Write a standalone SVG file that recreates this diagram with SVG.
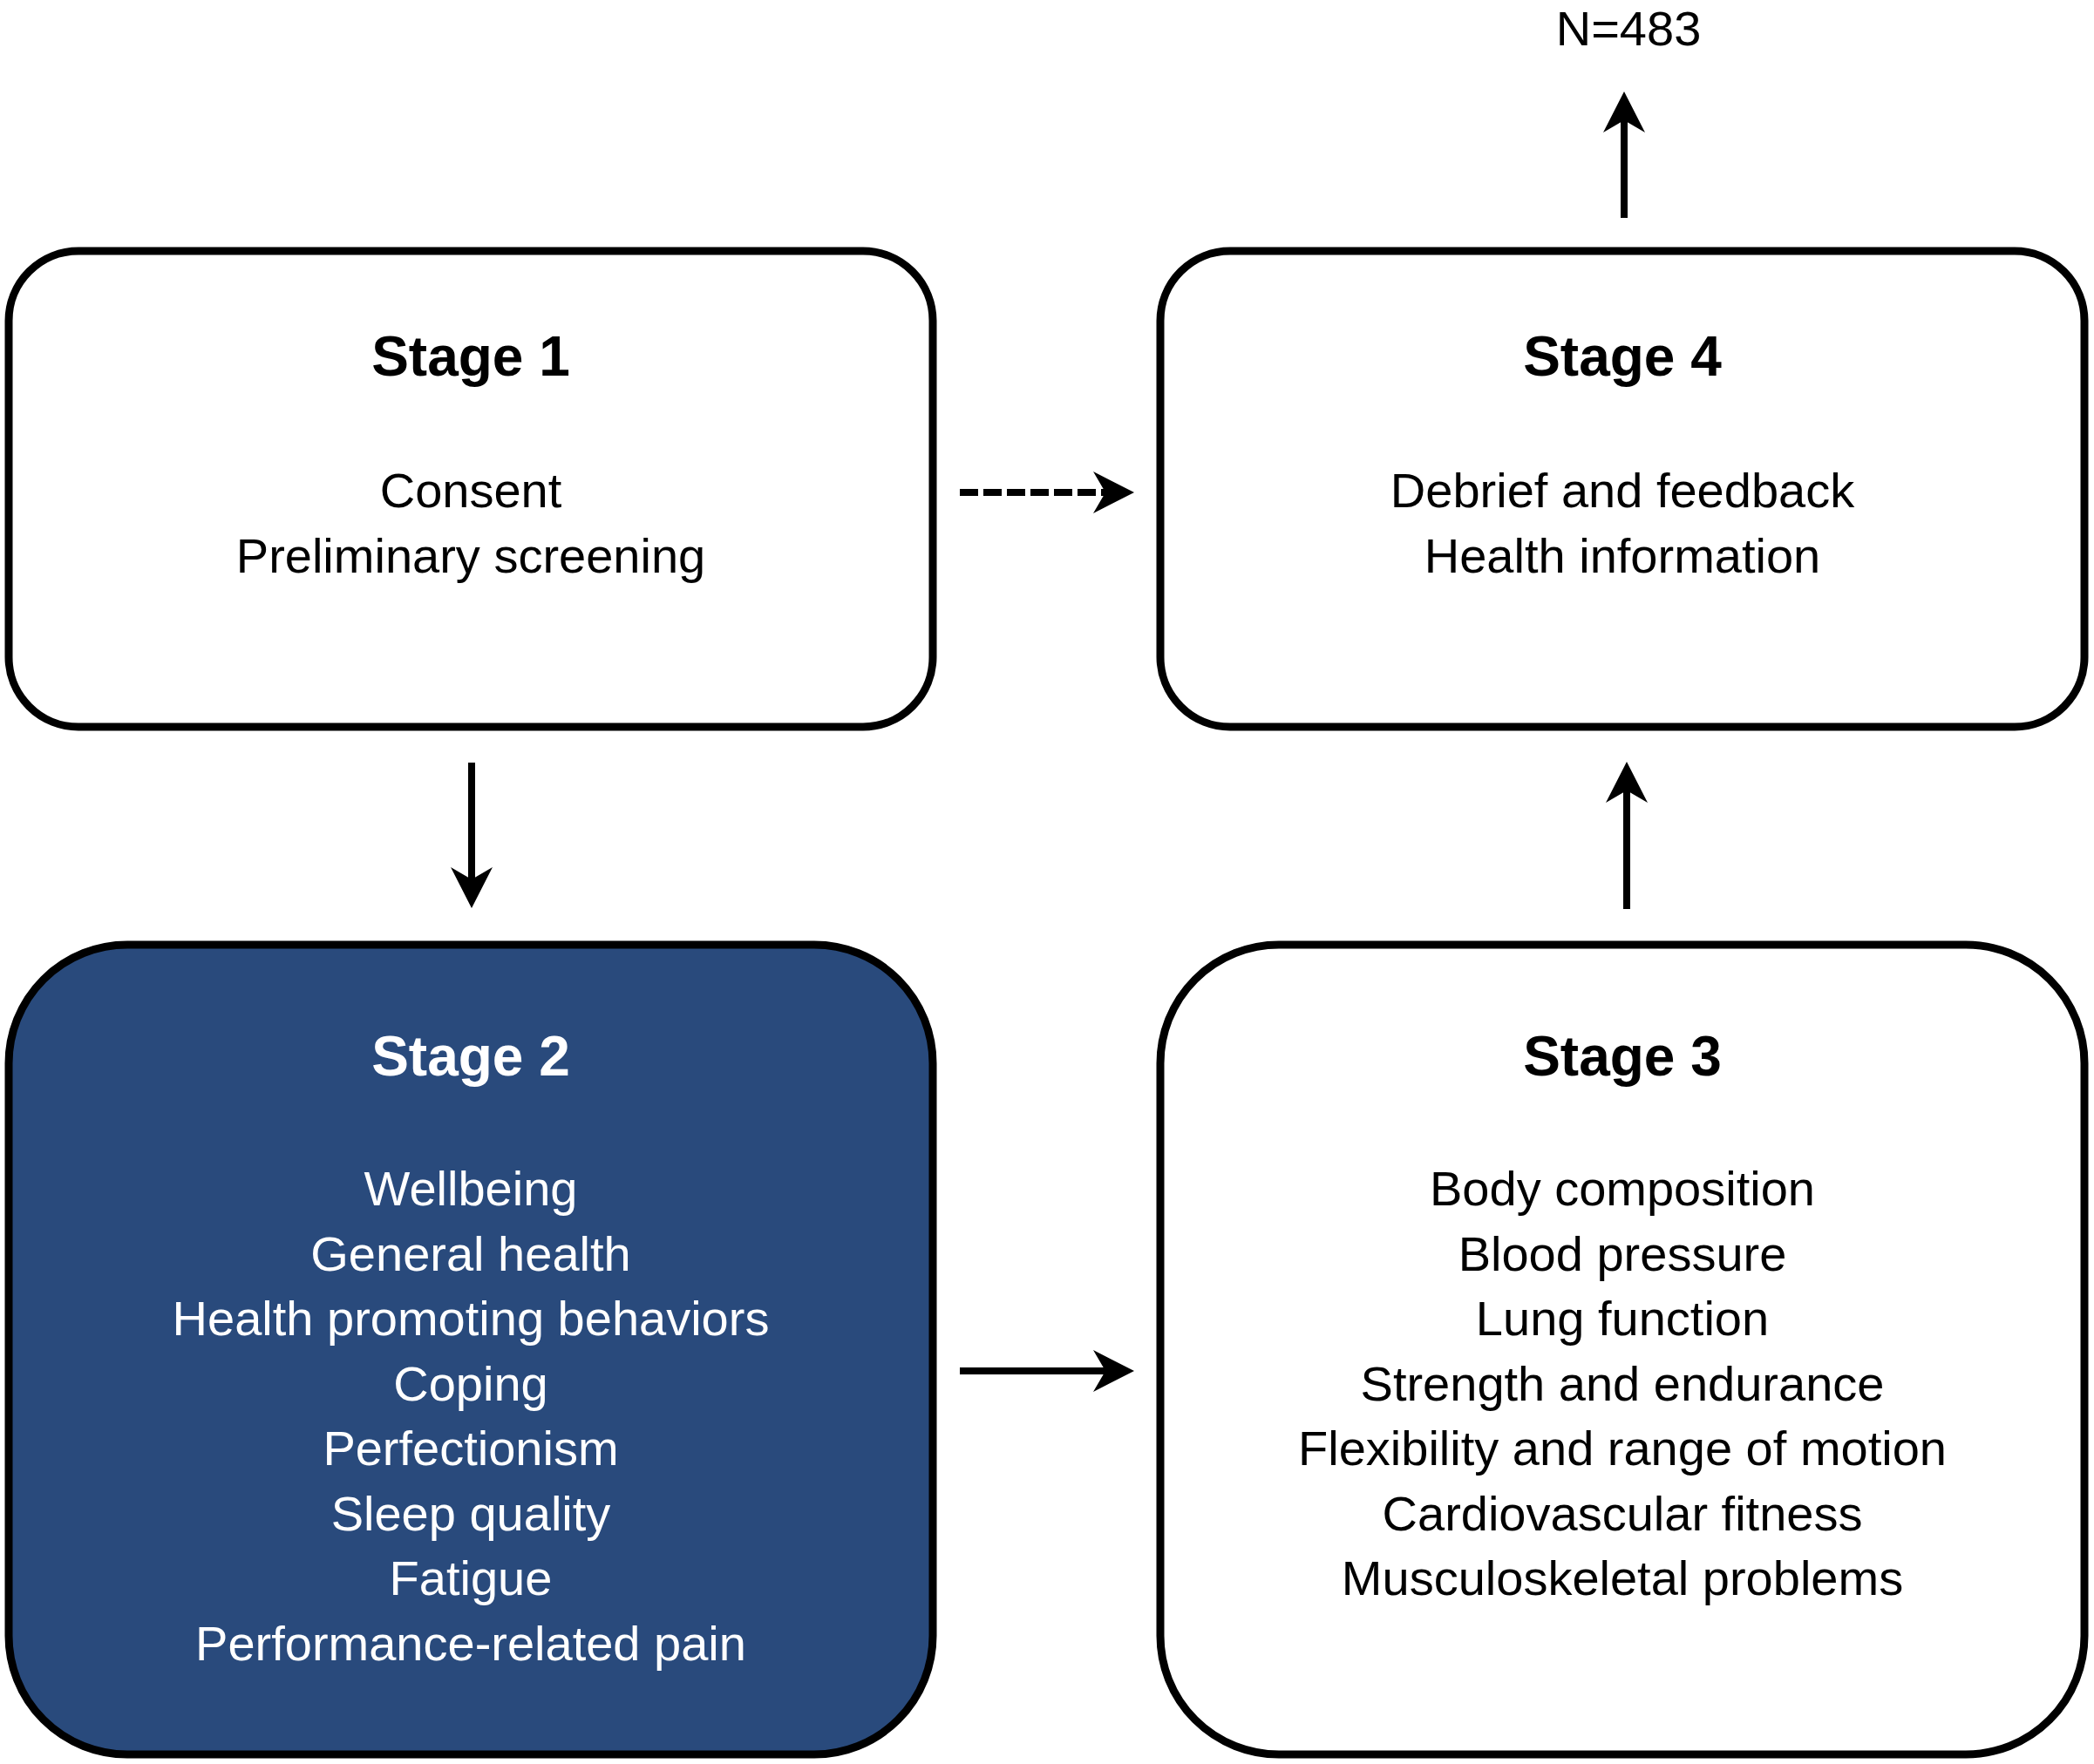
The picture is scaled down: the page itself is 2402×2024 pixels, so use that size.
<svg xmlns="http://www.w3.org/2000/svg" width="2402" height="2024" viewBox="0 0 2402 2024">
<style>
.box{fill:#ffffff;stroke:#000000;stroke-width:9}
.dark{fill:#294a7c}
.t{font-family:"Liberation Sans",Arial,Helvetica,sans-serif;text-anchor:middle}
.title{font-size:64px;font-weight:bold}
.body{font-size:56px}
.blk{fill:#000000}
.wht{fill:#ffffff}
.conn{stroke:#000000;stroke-width:8;fill:none}
.dash{stroke-dasharray:21 6}
</style>
<defs>
<marker id="ah" viewBox="-50 -26 52 52" markerWidth="52" markerHeight="52" refX="-33" refY="0" orient="auto" markerUnits="userSpaceOnUse">
<path d="M0,0 L-47,-24 L-33,0 L-47,24 Z" fill="#000000"/>
</marker>
</defs>
<rect width="2402" height="2024" fill="#ffffff"/>
<g id="stage1">
<rect class="box" x="10" y="288" width="1060" height="546" rx="80" ry="80"/>
<text class="t title blk" x="540" y="431">Stage 1</text>
<text class="t body blk" x="540" y="582">Consent</text>
<text class="t body blk" x="540" y="657">Preliminary screening</text>
</g>
<g id="stage4">
<rect class="box" x="1331" y="288" width="1060" height="546" rx="80" ry="80"/>
<text class="t title blk" x="1861" y="431">Stage 4</text>
<text class="t body blk" x="1861" y="582">Debrief and feedback</text>
<text class="t body blk" x="1861" y="657">Health information</text>
</g>
<g id="stage2">
<rect class="box dark" x="10" y="1084" width="1060" height="929" rx="136" ry="136"/>
<text class="t title wht" x="540" y="1234">Stage 2</text>
<text class="t body wht" x="540" y="1383">Wellbeing</text>
<text class="t body wht" x="540" y="1457.5">General health</text>
<text class="t body wht" x="540" y="1532">Health promoting behaviors</text>
<text class="t body wht" x="540" y="1606.5">Coping</text>
<text class="t body wht" x="540" y="1681">Perfectionism</text>
<text class="t body wht" x="540" y="1755.5">Sleep quality</text>
<text class="t body wht" x="540" y="1830">Fatigue</text>
<text class="t body wht" x="540" y="1904.5">Performance-related pain</text>
</g>
<g id="stage3">
<rect class="box" x="1331" y="1084" width="1060" height="929" rx="136" ry="136"/>
<text class="t title blk" x="1861" y="1234">Stage 3</text>
<text class="t body blk" x="1861" y="1383">Body composition</text>
<text class="t body blk" x="1861" y="1457.5">Blood pressure</text>
<text class="t body blk" x="1861" y="1532">Lung function</text>
<text class="t body blk" x="1861" y="1606.5">Strength and endurance</text>
<text class="t body blk" x="1861" y="1681">Flexibility and range of motion</text>
<text class="t body blk" x="1861" y="1755.5">Cardiovascular fitness</text>
<text class="t body blk" x="1861" y="1830">Musculoskeletal problems</text>
</g>
<g id="result">
<text class="t body blk" x="1868" y="52">N=483</text>
</g>
<g id="connectors">
<line class="conn" x1="541" y1="875" x2="541" y2="1009" marker-end="url(#ah)"/>
<line class="conn dash" x1="1101" y1="565" x2="1268" y2="565" marker-end="url(#ah)"/>
<line class="conn" x1="1101" y1="1573" x2="1268" y2="1573" marker-end="url(#ah)"/>
<line class="conn" x1="1866" y1="1043" x2="1866" y2="907" marker-end="url(#ah)"/>
<line class="conn" x1="1863" y1="250" x2="1863" y2="138" marker-end="url(#ah)"/>
</g>
</svg>
